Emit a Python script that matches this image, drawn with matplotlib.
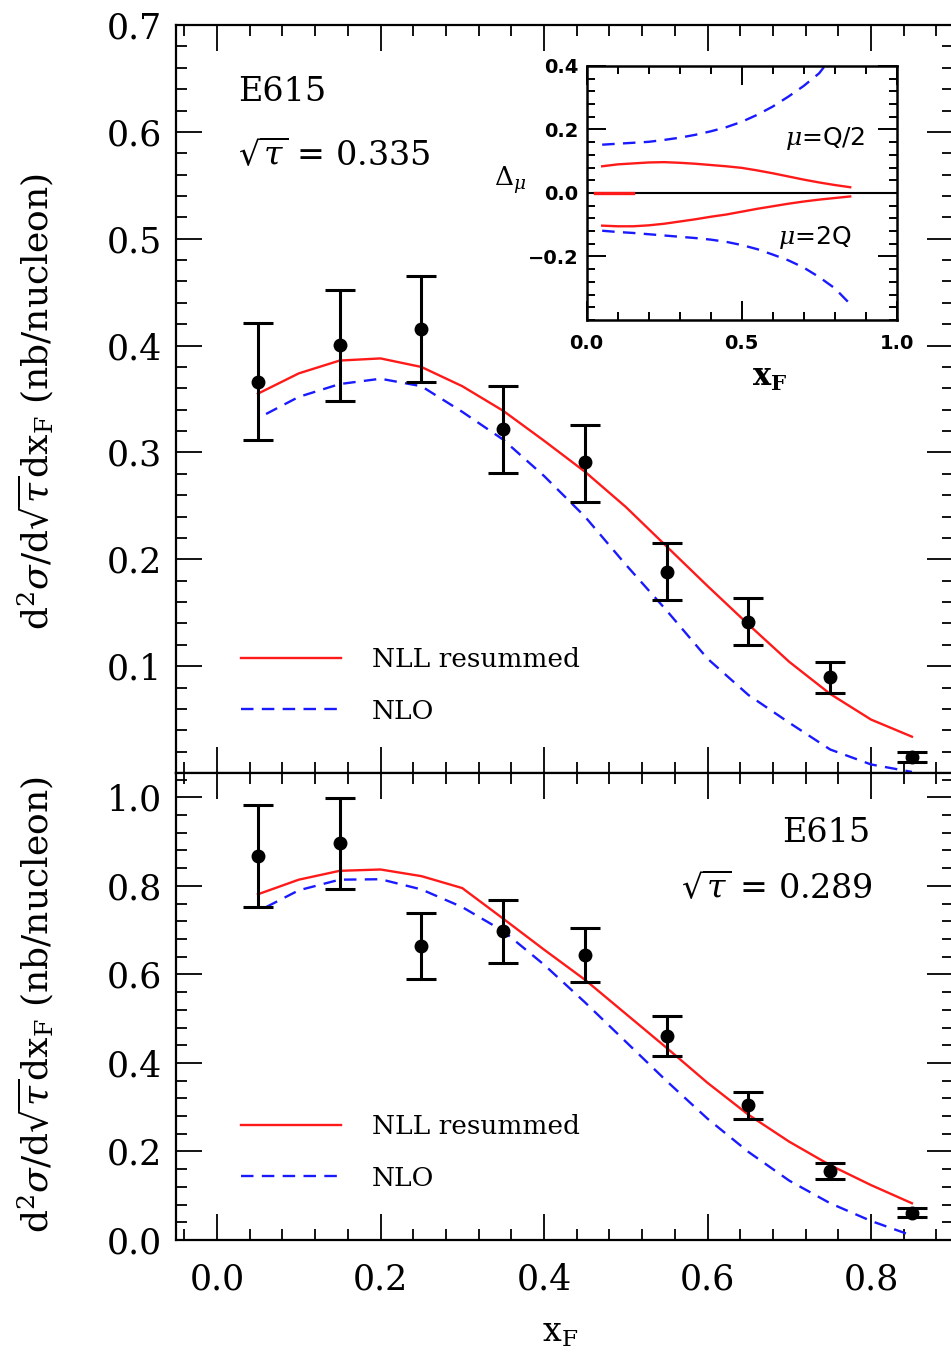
import matplotlib
matplotlib.use('Agg')
import matplotlib.pyplot as plt
from matplotlib.ticker import MultipleLocator, FixedLocator, FuncFormatter
import numpy as np

plt.rcParams['font.family'] = ['DejaVu Serif']
plt.rcParams['mathtext.fontset'] = 'dejavuserif'
plt.rcParams['lines.scale_dashes'] = False

# ---------------- data: top panel (sqrt(tau)=0.335) ----------------
x_data = [0.05, 0.15, 0.25, 0.35, 0.45, 0.55, 0.65, 0.75, 0.85]
top_y = [0.366, 0.401, 0.416, 0.3215, 0.291, 0.188, 0.141, 0.090, 0.015]
top_lo = [0.312, 0.348, 0.366, 0.281, 0.254, 0.162, 0.120, 0.075, 0.010]
top_hi = [0.4215, 0.452, 0.465, 0.362, 0.326, 0.215, 0.164, 0.104, 0.020]

x_nll = [0.05, 0.10, 0.15, 0.20, 0.25, 0.30, 0.35, 0.40, 0.45, 0.50,
         0.55, 0.60, 0.65, 0.70, 0.75, 0.80, 0.85]
top_nll = [0.355, 0.374, 0.386, 0.388, 0.380, 0.362, 0.339, 0.311, 0.282, 0.249,
           0.212, 0.175, 0.139, 0.104, 0.074, 0.050, 0.034]
x_nlo = [0.06, 0.10, 0.15, 0.20, 0.25, 0.30, 0.35, 0.40, 0.45, 0.50,
         0.55, 0.60, 0.65, 0.70, 0.75, 0.80, 0.85]
top_nlo = [0.336, 0.352, 0.364, 0.369, 0.362, 0.338, 0.312, 0.278, 0.240, 0.195,
           0.152, 0.107, 0.073, 0.047, 0.022, 0.008, 0.001]

# ---------------- data: bottom panel (sqrt(tau)=0.289) ----------------
bot_y = [0.8675, 0.896, 0.664, 0.6975, 0.643, 0.461, 0.304, 0.1565, 0.0617]
bot_lo = [0.753, 0.794, 0.5885, 0.626, 0.582, 0.415, 0.274, 0.138, 0.0512]
bot_hi = [0.9835, 0.999, 0.739, 0.769, 0.704, 0.5064, 0.3334, 0.173, 0.0715]

bot_nll = [0.781, 0.814, 0.834, 0.837, 0.822, 0.795, 0.726, 0.656, 0.588, 0.511,
           0.434, 0.355, 0.283, 0.222, 0.169, 0.124, 0.083]
bot_nlo = [0.752, 0.790, 0.814, 0.815, 0.792, 0.752, 0.698, 0.622, 0.537, 0.448,
           0.359, 0.274, 0.199, 0.134, 0.083, 0.043, 0.010]

# ---------------- data: inset (Delta_mu) ----------------
x_in = [0.05, 0.10, 0.15, 0.20, 0.25, 0.30, 0.35, 0.40, 0.45, 0.50,
        0.55, 0.60, 0.65, 0.70, 0.75, 0.80, 0.85]
nll_half = [0.084, 0.090, 0.093, 0.096, 0.097, 0.095, 0.092, 0.088, 0.084, 0.079,
            0.071, 0.062, 0.052, 0.042, 0.033, 0.025, 0.018]
nll_two = [-0.103, -0.105, -0.105, -0.102, -0.097, -0.090, -0.083, -0.075, -0.068, -0.059,
           -0.050, -0.042, -0.034, -0.027, -0.021, -0.016, -0.011]
x_in_nlo_half = [0.05, 0.10, 0.15, 0.20, 0.25, 0.30, 0.35, 0.40, 0.45, 0.50,
                 0.55, 0.60, 0.65, 0.70, 0.75, 0.80]
nlo_half = [0.152, 0.155, 0.158, 0.161, 0.167, 0.174, 0.183, 0.194, 0.207, 0.224,
            0.246, 0.272, 0.303, 0.337, 0.377, 0.44]
nlo_two = [-0.119, -0.123, -0.126, -0.130, -0.134, -0.138, -0.142, -0.147, -0.154, -0.164,
           -0.177, -0.194, -0.212, -0.235, -0.265, -0.300, -0.350]
zero_mark_x = [0.027, 0.15]

RED = '#ff1a1a'
BLUE = '#1a1aff'
DASH = (9, 6)
INSET_FONT = 'DejaVu Sans'

fig = plt.figure(figsize=(9.51, 13.54), dpi=100)
ax1 = fig.add_axes([0.1852, 0.4291, 0.8167, 0.5524])
ax2 = fig.add_axes([0.1852, 0.0842, 0.8167, 0.3449])

fmt1 = FuncFormatter(lambda v, p: f'{v:.1f}'.replace('-', '\u2212'))


def style(ax):
    for s in ax.spines.values():
        s.set_linewidth(1.6)
    ax.tick_params(which='both', direction='in', top=True, right=True, width=1.3)
    ax.tick_params(which='major', length=19)
    ax.tick_params(which='minor', length=8)
    ax.tick_params(axis='y', labelsize=25, pad=10)
    ax.tick_params(axis='x', labelsize=25, pad=16)
    ax.xaxis.set_major_locator(MultipleLocator(0.2))
    ax.xaxis.set_minor_locator(MultipleLocator(0.04))
    ax.xaxis.set_major_formatter(fmt1)
    ax.yaxis.set_major_formatter(fmt1)
    ax.set_xlim(-0.05, 0.9)


for ax, yv, lo, hi, nll, nlo in [(ax1, top_y, top_lo, top_hi, top_nll, top_nlo),
                                 (ax2, bot_y, bot_lo, bot_hi, bot_nll, bot_nlo)]:
    style(ax)
    ax.plot(x_nll, nll, color=RED, lw=1.7, label='NLL resummed', zorder=2)
    ax.plot(x_nlo, nlo, color=BLUE, lw=1.7, dashes=DASH, label='NLO', zorder=2)
    yv_a = np.array(yv)
    yerr = [yv_a - np.array(lo), np.array(hi) - yv_a]
    ax.errorbar(x_data, yv, yerr=yerr, fmt='o', color='black', ms=9,
                elinewidth=2.2, capsize=11, capthick=2.2, zorder=3)

# top panel axes
ax1.set_ylim(0, 0.7)
ax1.yaxis.set_major_locator(FixedLocator([0.1, 0.2, 0.3, 0.4, 0.5, 0.6, 0.7]))
ax1.yaxis.set_minor_locator(MultipleLocator(0.02))
ax1.tick_params(axis='x', labelbottom=False)

# bottom panel axes
ax2.set_ylim(0, 1.055)
ax2.yaxis.set_major_locator(FixedLocator([0.0, 0.2, 0.4, 0.6, 0.8, 1.0]))
ax2.yaxis.set_minor_locator(MultipleLocator(0.04))

ylab = r'd$^2\sigma$/d$\sqrt{\tau}$dx$_{\mathrm{F}}$ (nb/nucleon)'
ax1.text(-0.181, 0.496, ylab, transform=ax1.transAxes, rotation=90,
         ha='center', va='center', fontsize=26)
ax2.text(-0.181, 0.503, ylab, transform=ax2.transAxes, rotation=90,
         ha='center', va='center', fontsize=26)
ax2.text(0.494, -0.199, r'x$_{\mathrm{F}}$', transform=ax2.transAxes,
         ha='center', va='center', fontsize=24)

# annotations
ax1.text(0.026, 0.637, 'E615', fontsize=24, ha='left', va='center')
ax1.text(0.026, 0.5785, r'$\sqrt{\tau}$ = 0.335', fontsize=24, ha='left', va='center')
ax2.text(0.799, 0.919, 'E615', fontsize=24, ha='right', va='center')
ax2.text(0.802, 0.795, r'$\sqrt{\tau}$ = 0.289', fontsize=24, ha='right', va='center')

for ax, yc in [(ax1, 0.1170), (ax2, 0.1874)]:
    ax.legend(loc='center left', bbox_to_anchor=(0.0836, yc), frameon=False,
              fontsize=19, handlelength=3.8, handletextpad=1.15,
              labelspacing=1.0, borderpad=0, borderaxespad=0)

# ---------------- inset ----------------
axi = fig.add_axes([0.6169, 0.7637, 0.326, 0.1876])
for s in axi.spines.values():
    s.set_linewidth(1.8)
axi.set_xlim(0, 1)
axi.set_ylim(-0.4, 0.4)
axi.axhline(0, color='black', lw=1.5, zorder=1)
axi.plot(zero_mark_x, [0, 0], color=RED, lw=2.4, zorder=2)
axi.plot(x_in, nll_half, color=RED, lw=1.7)
axi.plot(x_in, nll_two, color=RED, lw=1.7)
axi.plot(x_in_nlo_half, nlo_half, color=BLUE, lw=1.7, dashes=DASH)
axi.plot(x_in, nlo_two, color=BLUE, lw=1.7, dashes=DASH)
axi.xaxis.set_major_locator(MultipleLocator(0.5))
axi.xaxis.set_minor_locator(MultipleLocator(0.1))
axi.yaxis.set_major_locator(FixedLocator([-0.2, 0.0, 0.2, 0.4]))
axi.yaxis.set_minor_locator(MultipleLocator(0.04))
axi.xaxis.set_major_formatter(fmt1)
axi.yaxis.set_major_formatter(fmt1)
axi.tick_params(which='both', direction='in', top=True, right=True, width=1.4)
axi.tick_params(which='major', length=14)
axi.tick_params(which='minor', length=6)
axi.tick_params(axis='both', labelsize=14)
axi.tick_params(axis='x', pad=10)
axi.tick_params(axis='y', pad=6)
for lab in axi.get_xticklabels() + axi.get_yticklabels():
    lab.set_family(INSET_FONT)
    lab.set_fontweight('bold')
axi.text(-0.247, 0.551, r'$\Delta_{\mu}$', transform=axi.transAxes,
         ha='center', va='center', fontsize=19)
axi.text(0.591, -0.228, r'$\mathbf{x}_{\mathbf{F}}$', transform=axi.transAxes,
         ha='center', va='center', fontsize=22)
axi.text(0.769, 0.171, r'$\mu$=Q/2', ha='center', va='center', fontsize=18,
         family=INSET_FONT)
axi.text(0.736, -0.139, r'$\mu$=2Q', ha='center', va='center', fontsize=18,
         family=INSET_FONT)

fig.savefig('out.png', dpi=100)
